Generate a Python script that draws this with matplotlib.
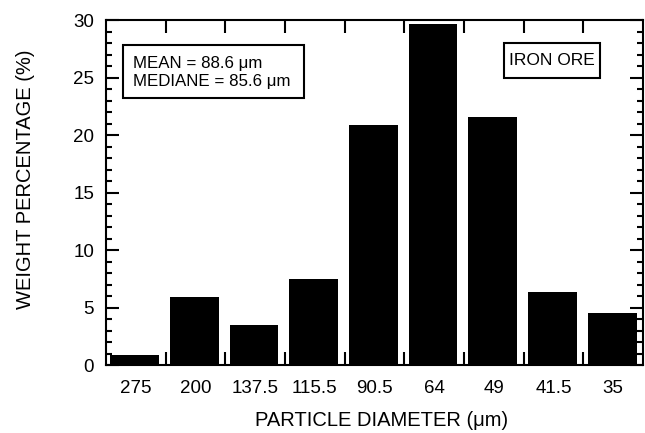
import matplotlib
matplotlib.use("Agg")
import matplotlib.pyplot as plt
from matplotlib.patches import Rectangle
import numpy as np

plt.rcParams["font.family"] = ["Liberation Sans", "DejaVu Sans"]

# particle diameter classes (um) and weight percentages
diameters = ["275", "200", "137.5", "115.5", "90.5", "64", "49", "41.5", "35"]
weights = [0.9, 5.9, 3.5, 7.5, 20.9, 29.7, 21.6, 6.4, 4.5]

fig = plt.figure(figsize=(6.45, 4.33), dpi=100)
ax = fig.add_axes([0.1643, 0.157, 0.8327, 0.7957])

x = np.arange(len(diameters))
ax.bar(x + 0.07, weights, width=0.82, align="edge", color="black")

ax.set_xlim(0, len(diameters))
ax.set_ylim(0, 30)

# major x ticks sit between classes, labels at class centres
ax.set_xticks(np.arange(1, len(diameters)))
ax.set_xticklabels([])
ax.set_xticks(x + 0.5, minor=True)
ax.set_xticklabels(diameters, minor=True)
ax.set_yticks(np.arange(0, 31, 5))
ax.set_yticks(np.arange(0, 31, 1), minor=True)

ax.tick_params(axis="x", which="major", direction="in", top=True, length=9.5, width=1.5)
ax.tick_params(axis="x", which="minor", length=0, pad=11, labelsize=13.5)
ax.tick_params(axis="y", which="major", direction="in", right=True, length=9.5, width=1.5,
               pad=8.5, labelsize=13.5)
ax.tick_params(axis="y", which="minor", direction="in", right=True, length=4, width=1.5)

for s in ax.spines.values():
    s.set_linewidth(1.5)

ax.set_xlabel("PARTICLE DIAMETER (\u03bcm)", fontsize=14.5)
ax.xaxis.set_label_coords(0.514, -0.134)
ax.set_ylabel("WEIGHT PERCENTAGE (%)", fontsize=14.5)
ax.yaxis.set_label_coords(-0.132, 0.54)

# statistics box
ax.add_patch(Rectangle((0.0317, 0.775), 0.337, 0.154, transform=ax.transAxes,
                       facecolor="white", edgecolor="black", linewidth=1.5, zorder=3))
ax.text(0.0503, 0.863, "MEAN = 88.6 \u03bcm", transform=ax.transAxes,
        fontsize=12.2, va="baseline", ha="left", zorder=4)
ax.text(0.0503, 0.811, "MEDIANE = 85.6 \u03bcm", transform=ax.transAxes,
        fontsize=12.2, va="baseline", ha="left", zorder=4)

# sample label box
ax.add_patch(Rectangle((0.741, 0.832), 0.179, 0.102, transform=ax.transAxes,
                       facecolor="white", edgecolor="black", linewidth=1.5, zorder=3))
ax.text(0.830, 0.883, "IRON ORE", transform=ax.transAxes,
        fontsize=12.5, va="center", ha="center", zorder=4)

plt.savefig("out.png", dpi=100)
